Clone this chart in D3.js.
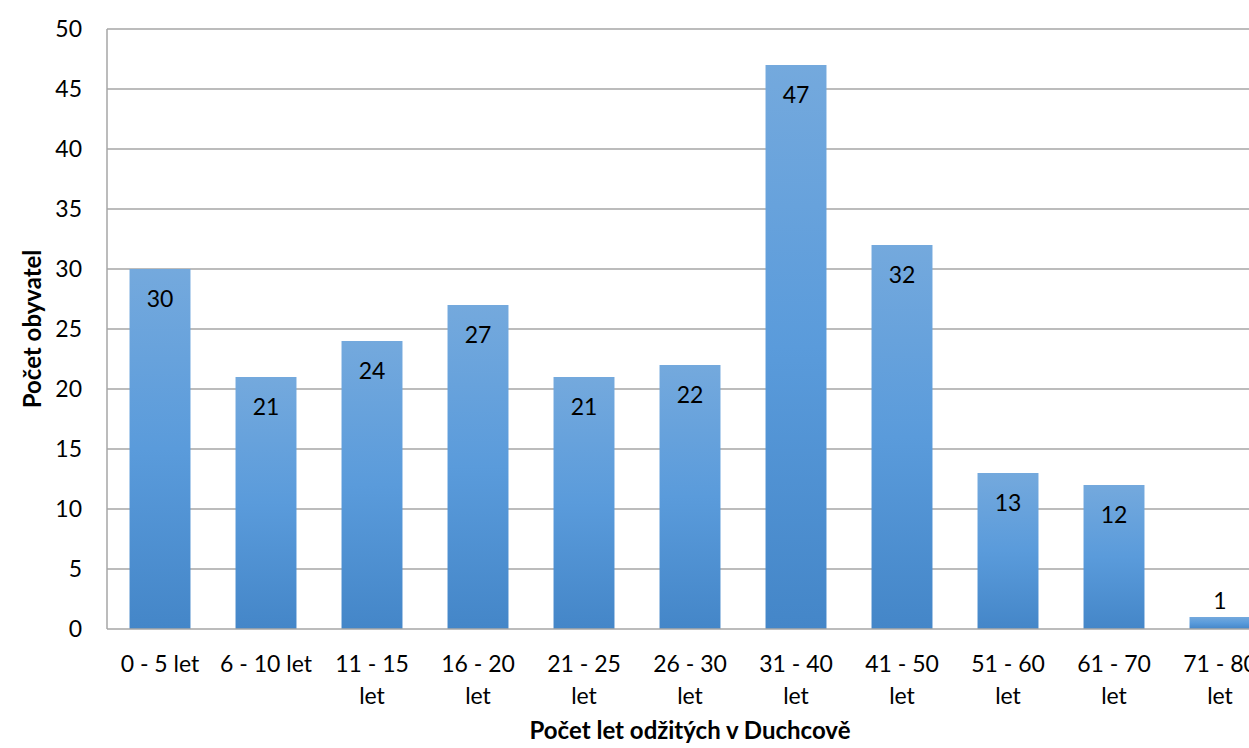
<!DOCTYPE html>
<html><head><meta charset="utf-8">
<script src="https://cdn.jsdelivr.net/npm/d3@7"></script>
<style>body{margin:0;background:#fff}svg{display:block}text{font-family:Lato,"Open Sans",sans-serif}</style>
</head><body><svg id="c" width="1249" height="748"></svg>
<script>
const categories = ["0 - 5 let","6 - 10 let","11 - 15 let","16 - 20 let","21 - 25 let","26 - 30 let","31 - 40 let","41 - 50 let","51 - 60 let","61 - 70 let","71 - 80 let"];
const values = [30,21,24,27,21,22,47,32,13,12,1];
const yTicks = [0,5,10,15,20,25,30,35,40,45,50];
const xTitle = "Počet let odžitých v Duchcově";
const yTitle = "Počet obyvatel";

const svg = d3.select("#c");
const pL = 107, pR = 1273, pT = 29, pB = 629;
const FS = 23;
const x = d3.scaleBand().domain(categories).range([pL, pR]).paddingInner(0.425).paddingOuter(0.2125);
const y = d3.scaleLinear().domain([0,50]).range([pB, pT]);

const defs = svg.append("defs");
const g = defs.append("linearGradient").attr("id","bg").attr("x1",0).attr("y1",0).attr("x2",0).attr("y2",1);
g.append("stop").attr("offset","0%").attr("stop-color","#74a9dd");
g.append("stop").attr("offset","50%").attr("stop-color","#5a9bdb");
g.append("stop").attr("offset","100%").attr("stop-color","#4486c8");

// gridlines
svg.append("g").selectAll("line").data(yTicks.filter(d=>d>0)).join("line")
  .attr("x1",pL).attr("x2",1249).attr("y1",d=>y(d)).attr("y2",d=>y(d))
  .attr("stroke","#a6a6a6").attr("stroke-width",1.5);

// bars
svg.append("g").selectAll("rect").data(values).join("rect")
  .attr("x",(d,i)=>x(categories[i])).attr("width",x.bandwidth())
  .attr("y",d=>y(d)).attr("height",d=>y(0)-y(d)).attr("fill","url(#bg)");

// axes lines
svg.append("line").attr("x1",pL).attr("x2",pL).attr("y1",pT).attr("y2",pB).attr("stroke","#a6a6a6").attr("stroke-width",1.5);
svg.append("line").attr("x1",pL).attr("x2",1249).attr("y1",pB).attr("y2",pB).attr("stroke","#a6a6a6").attr("stroke-width",1.5);

// y tick labels
svg.append("g").selectAll("text").data(yTicks).join("text")
  .attr("x",82).attr("y",d=>y(d)).attr("dy","0.35em").attr("text-anchor","end")
  .attr("font-size",FS).attr("fill","#000").text(d=>d);

// data labels
svg.append("g").selectAll("text").data(values).join("text")
  .attr("x",(d,i)=>x(categories[i])+x.bandwidth()/2)
  .attr("y",d=> d>=5 ? y(d)+38 : y(d)-8)
  .attr("text-anchor","middle").attr("font-size",FS).attr("fill","#000").text(d=>d);

// x labels
const xl = svg.append("g").selectAll("text").data(categories).join("text")
  .attr("x",d=>x(d)+x.bandwidth()/2).attr("y",672)
  .attr("text-anchor","middle").attr("font-size",FS).attr("fill","#000");
xl.each(function(d){
  const t = d3.select(this);
  const cx = x(d)+x.bandwidth()/2;
  if (d.length > 10) {
    const parts = [d.replace(/ let$/,""), "let"];
    parts.forEach((p,k)=>t.append("tspan").attr("x",cx).attr("dy",k?32:0).text(p));
  } else t.text(d);
});

svg.append("text").attr("x",690).attr("y",739).attr("text-anchor","middle")
  .attr("font-size",24).attr("font-weight","bold").text(xTitle);
svg.append("text").attr("transform","translate(41,329) rotate(-90)").attr("text-anchor","middle")
  .attr("font-size",24).attr("font-weight","bold").text(yTitle);
</script></body></html>
